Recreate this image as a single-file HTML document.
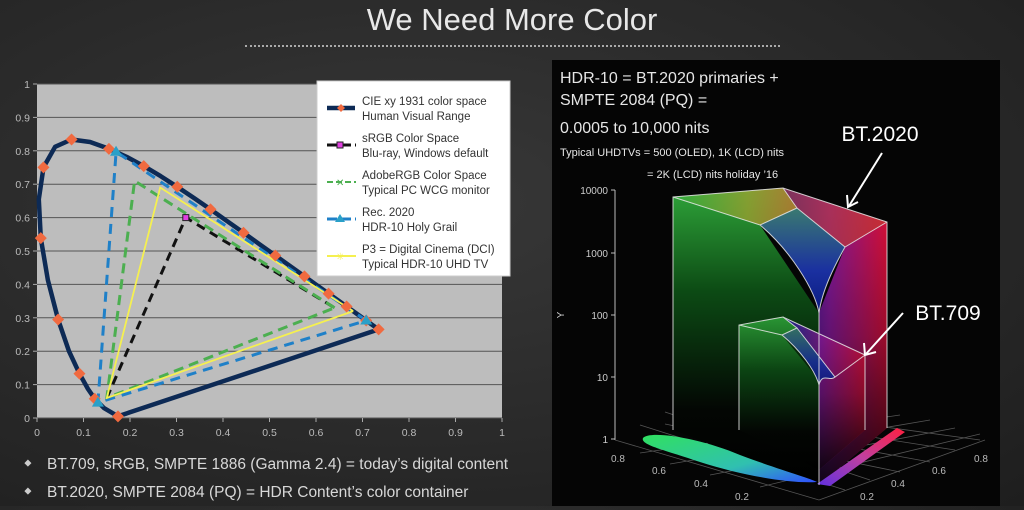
<!DOCTYPE html>
<html><head><meta charset="utf-8">
<style>
html,body{margin:0;padding:0;}
body{width:1024px;height:506px;overflow:hidden;background:radial-gradient(ellipse at 40% 40%,#383838 0%,#262626 70%,#1e1e1e 100%);font-family:"Liberation Sans",sans-serif;position:relative;}
.title{position:absolute;left:0;width:1024px;top:2px;text-align:center;color:#e8e8e8;font-size:31px;font-weight:300;}
.dots{position:absolute;left:245px;width:535px;top:45px;border-top:2px dotted #aaa;}
.bul{position:absolute;left:24px;color:#d8d8d8;font-size:15.5px;}
.bul span{display:inline-block;width:5px;height:5px;background:#ccc;margin-right:18px;vertical-align:middle;transform:rotate(45deg) translateY(-2px);}
</style></head><body>
<div class="title">We Need More Color</div>
<div class="dots"></div>
<svg id="L" width="540" height="450" style="position:absolute;left:0;top:60px" xmlns="http://www.w3.org/2000/svg"></svg>
<div class="bul" style="top:456px"><span></span>BT.709, sRGB, SMPTE 1886 (Gamma 2.4) = today’s digital content</div>
<div class="bul" style="top:484px"><span></span>BT.2020, SMPTE 2084 (PQ) = HDR Content’s color container</div>

<svg width="1024" height="506" style="position:absolute;left:0;top:0" xmlns="http://www.w3.org/2000/svg" font-family="Liberation Sans, sans-serif">
<defs>
<linearGradient id="gl" x1="0" y1="0" x2="0" y2="1"><stop offset="0" stop-color="#2fa53a"/><stop offset="0.35" stop-color="#0c4a14"/><stop offset="0.75" stop-color="#030603"/><stop offset="1" stop-color="#000"/></linearGradient>
<linearGradient id="gr" x1="0" y1="0" x2="1" y2="0"><stop offset="0" stop-color="#1020a0"/><stop offset="0.45" stop-color="#8a1aa0"/><stop offset="1" stop-color="#e0103a"/></linearGradient>
<linearGradient id="gb" x1="0" y1="0" x2="0" y2="1"><stop offset="0" stop-color="#3a7a70"/><stop offset="0.6" stop-color="#1a30a0"/><stop offset="1" stop-color="#0a1a80"/></linearGradient>
<linearGradient id="gfade" x1="0" y1="0" x2="0" y2="1"><stop offset="0" stop-color="#000" stop-opacity="0"/><stop offset="0.5" stop-color="#000" stop-opacity="0.3"/><stop offset="1" stop-color="#000" stop-opacity="0.85"/></linearGradient>
<linearGradient id="gtop" x1="0" y1="0" x2="1" y2="0"><stop offset="0" stop-color="#30b040"/><stop offset="0.6" stop-color="#a0a030"/><stop offset="1" stop-color="#d07030"/></linearGradient>
<linearGradient id="ggreen" x1="0" y1="0" x2="1" y2="1"><stop offset="0" stop-color="#30e060"/><stop offset="0.6" stop-color="#30c0b0"/><stop offset="1" stop-color="#3050ff"/></linearGradient>
<linearGradient id="gred" x1="0" y1="1" x2="1" y2="0"><stop offset="0" stop-color="#6030e0"/><stop offset="0.5" stop-color="#c040a0"/><stop offset="1" stop-color="#ff2040"/></linearGradient>
</defs>
<rect x="552" y="60" width="448" height="446" fill="#050505"/>
<g fill="#e6e6e6">
<text x="560" y="83" font-size="16">HDR-10 = BT.2020 primaries +</text>
<text x="560" y="105" font-size="16">SMPTE 2084 (PQ)  =</text>
<text x="560" y="133" font-size="16">0.0005 to 10,000 nits</text>
<text x="560" y="156" font-size="11">Typical UHDTVs = 500 (OLED), 1K (LCD) nits</text>
<text x="647" y="178" font-size="11">= 2K (LCD) nits holiday ’16</text>
</g>
<g stroke="#bbb" stroke-width="1" fill="none">
<line x1="615" y1="190" x2="615" y2="440"/>
<line x1="611" y1="190" x2="615" y2="190"/><line x1="611" y1="253" x2="615" y2="253"/><line x1="611" y1="315" x2="615" y2="315"/><line x1="611" y1="377" x2="615" y2="377"/><line x1="611" y1="439" x2="615" y2="439"/>
</g>
<g fill="#ccc" font-size="10" text-anchor="end">
<text x="608" y="194">10000</text><text x="608" y="257">1000</text><text x="608" y="319">100</text><text x="608" y="381">10</text><text x="608" y="443">1</text>
<text x="560" y="319" text-anchor="middle" transform="rotate(-90 560 315)">Y</text>
</g>
<g stroke="#555" stroke-width="0.8" fill="none">
<line x1="615" y1="440" x2="819" y2="500"/><line x1="819" y1="500" x2="985" y2="440"/>
<line x1="640" y1="425" x2="845" y2="490"/><line x1="665" y1="412" x2="870" y2="480"/>
<line x1="980" y1="440" x2="760" y2="410"/><line x1="955" y1="450" x2="730" y2="415"/>
<line x1="930" y1="462" x2="700" y2="420"/><line x1="900" y1="472" x2="665" y2="424"/>
<line x1="640" y1="453" x2="900" y2="415"/><line x1="670" y1="464" x2="930" y2="420"/><line x1="710" y1="475" x2="955" y2="428"/><line x1="760" y1="487" x2="980" y2="434"/>
</g>
<!-- BT2020 solid -->
<polygon points="673,197 783,188 797,208 760,225 819,313 819,485 673,430" fill="url(#gl)"/>
<polygon points="783,188 887,222 887,428 819,485 819,313 845,247 797,208" fill="url(#gr)"/>
<polygon points="783,188 887,222 887,428 819,485 819,313 845,247 797,208" fill="url(#gfade)"/>
<path d="M760,225 L797,208 L845,247 C835,265 822,290 819,313 C815,290 790,250 760,225Z" fill="url(#gb)"/>
<polygon points="673,197 783,188 797,208 760,225" fill="url(#gtop)" opacity="0.75"/>
<polygon points="783,188 887,222 845,247 797,208" fill="#c04030" opacity="0.6"/>
<path d="M643,438 C650,430 700,438 740,455 C780,470 810,478 817,482 C790,484 740,475 700,462 C665,450 640,445 643,438Z" fill="url(#ggreen)"/>
<path d="M817,484 L897,428 L905,432 L830,486Z" fill="url(#gred)"/>
<!-- BT709 -->
<polygon points="739,325 783,317 797,328 782,335 819,380 819,470 739,430" fill="url(#gl)" opacity="0.85"/>
<polygon points="783,317 865,355 865,430 819,470 819,380 835,377 797,328" fill="url(#gr)" opacity="0.8"/>
<polygon points="783,317 865,355 865,430 819,470 819,380 835,377 797,328" fill="url(#gfade)"/>
<path d="M782,335 L797,328 L835,377 C828,380 822,375 819,385 C815,370 800,350 782,335Z" fill="url(#gb)" opacity="0.85"/>
<g stroke="#e8e8e8" stroke-width="1" fill="none" opacity="0.85">
<polyline points="673,430 673,197 783,188 887,222 887,428"/>
<polyline points="673,197 760,225 797,208 783,188"/>
<polyline points="797,208 845,247 887,222"/>
<path d="M760,225 C790,250 815,290 819,313 C822,290 835,265 845,247"/>
<line x1="819" y1="313" x2="819" y2="485"/>
<polyline points="739,430 739,325 783,317 865,355 865,430"/>
<polyline points="739,325 782,335 797,328 783,317"/>
<polyline points="797,328 835,377 865,355"/>
<path d="M782,335 C800,350 815,370 819,385 C822,372 830,382 835,377"/>
</g>
<g stroke="#fff" stroke-width="2" fill="none">
<line x1="882" y1="153" x2="849" y2="206"/><polyline points="847,195 848,207 858,202"/>
<line x1="903" y1="313" x2="866" y2="354"/><polyline points="864,343 865,355 876,352"/>
</g>
<text x="880" y="141" font-size="21" fill="#fff" text-anchor="middle">BT.2020</text>
<text x="948" y="320" font-size="21" fill="#fff" text-anchor="middle">BT.709</text>
<g fill="#bbb" font-size="10">
<text x="611" y="462">0.8</text><text x="652" y="474">0.6</text><text x="694" y="487">0.4</text><text x="735" y="500">0.2</text>
<text x="974" y="462">0.8</text><text x="932" y="474">0.6</text><text x="891" y="487">0.4</text><text x="860" y="500">0.2</text>
</g>
</svg>

<script>
(function(){
var s=document.getElementById('L'),h='';
var X=function(x){return 37+465*x},Y=function(y){return 358-334*y};
h+='<rect x="37" y="24" width="465" height="334" fill="#bdbdbd"/>';
for(var i=0;i<=10;i++){var y=Y(i/10);h+='<line x1="37" x2="502" y1="'+y+'" y2="'+y+'" stroke="#555" stroke-width="1"/>';
h+='<line x1="33" x2="37" y1="'+y+'" y2="'+y+'" stroke="#aaa"/>';
h+='<text x="30" y="'+(y+4)+'" fill="#bbb" font-size="10.5" text-anchor="end" font-family="Liberation Sans">'+(i==0?'0':i==10?'1':(i/10))+'</text>';
var x=X(i/10);h+='<line x1="'+x+'" x2="'+x+'" y1="358" y2="362" stroke="#aaa"/>';
h+='<text x="'+x+'" y="376" fill="#bbb" font-size="10.5" text-anchor="middle" font-family="Liberation Sans">'+(i==0?'0':i==10?'1':(i/10))+'</text>';}
var loc=[[.1741,.005],[.144,.0297],[.1241,.0578],[.1096,.0868],[.0913,.1327],[.0687,.2007],[.0454,.295],[.0235,.4127],[.0082,.5384],[.0039,.6548],[.0139,.7502],[.0389,.812],[.0743,.8338],[.1142,.8262],[.1547,.8059],[.1929,.7816],[.2296,.7543],[.2658,.7243],[.3016,.6923],[.3373,.6589],[.3731,.6245],[.4087,.5896],[.4441,.5547],[.4788,.5202],[.5125,.4866],[.5448,.4544],[.5752,.4242],[.6029,.3965],[.627,.3725],[.6482,.3514],[.6658,.334],[.6915,.3083],[.7079,.292],[.719,.2809],[.7347,.2653]];
function P(a){return a.map(function(p){return X(p[0]).toFixed(1)+','+Y(p[1]).toFixed(1)}).join(' ')}
h+='<polygon points="'+P(loc)+'" fill="none" stroke="#0d2a55" stroke-width="4.5" stroke-linejoin="round"/>';
var sr=[[.15,.06],[.32,.6],[.64,.33]],ad=[[.64,.33],[.21,.71],[.15,.06],[.64,.33]],rc=[[.708,.292],[.17,.797],[.131,.046],[.708,.292]],p3=[[.68,.32],[.265,.69],[.15,.06],[.68,.32]];
h+='<polyline points="'+P(sr)+'" fill="none" stroke="#111" stroke-width="3" stroke-dasharray="9,6"/>';
h+='<polyline points="'+P(ad)+'" fill="none" stroke="#4caf50" stroke-width="3" stroke-dasharray="10,6"/>';
h+='<polyline points="'+P(rc)+'" fill="none" stroke="#1f80c8" stroke-width="3" stroke-dasharray="10,7"/>';
h+='<polyline points="'+P(p3)+'" fill="none" stroke="#f5f050" stroke-width="1.8"/>';
loc.forEach(function(p,k){if(k%2==0||k==loc.length-1){var x=X(p[0]),y=Y(p[1]);h+='<polygon points="'+x+','+(y-6)+' '+(x+6)+','+y+' '+x+','+(y+6)+' '+(x-6)+','+y+'" fill="#f06a40"/>';}});
h+='<rect x="'+(X(.32)-3)+'" y="'+(Y(.6)-3)+'" width="6" height="6" fill="#e040e0" stroke="#222"/>';
rc.slice(0,3).forEach(function(p){var x=X(p[0]),y=Y(p[1]);h+='<polygon points="'+x+','+(y-6)+' '+(x+6)+','+(y+4)+' '+(x-6)+','+(y+4)+'" fill="#2aa0c8"/>';});
h+='<rect x="317" y="21" width="193" height="195" fill="#fff" stroke="#ccc"/>';
var L=[['CIE xy 1931 color space','Human Visual Range'],['sRGB Color Space','Blu-ray, Windows default'],['AdobeRGB Color Space','Typical PC WCG monitor'],['Rec. 2020','HDR-10 Holy Grail'],['P3 = Digital Cinema (DCI)','Typical HDR-10 UHD TV']];
L.forEach(function(t,k){var y=45+k*37;
h+='<text x="362" y="'+y+'" font-size="11.5" fill="#333" font-family="Liberation Sans">'+t[0]+'</text><text x="362" y="'+(y+15)+'" font-size="11.5" fill="#333" font-family="Liberation Sans">'+t[1]+'</text>';
var ly=y+3;
if(k==0){h+='<line x1="327" x2="355" y1="'+ly+'" y2="'+ly+'" stroke="#0d2a55" stroke-width="4.5"/><polygon points="341,'+(ly-4)+' 345,'+ly+' 341,'+(ly+4)+' 337,'+ly+'" fill="#f06a40"/>';}
if(k==1){h+='<line x1="327" x2="356" y1="'+ly+'" y2="'+ly+'" stroke="#111" stroke-width="3" stroke-dasharray="10,4"/><rect x="337" y="'+(ly-3)+'" width="6" height="6" fill="#e040e0" stroke="#222"/>';}
if(k==2){h+='<line x1="327" x2="356" y1="'+ly+'" y2="'+ly+'" stroke="#4caf50" stroke-width="2" stroke-dasharray="6,3"/><text x="336" y="'+(ly+4)+'" font-size="10" fill="#4caf50">✕</text>';}
if(k==3){h+='<line x1="327" x2="356" y1="'+ly+'" y2="'+ly+'" stroke="#1f80c8" stroke-width="3" stroke-dasharray="10,4"/><polygon points="340,'+(ly-5)+' 345,'+(ly+3)+' 335,'+(ly+3)+'" fill="#2aa0c8"/>';}
if(k==4){h+='<line x1="327" x2="356" y1="'+ly+'" y2="'+ly+'" stroke="#f5f050" stroke-width="2"/><text x="336" y="'+(ly+4)+'" font-size="10" fill="#f5f050">✳</text>';}
});
s.innerHTML=h;
})();
</script>
</body></html>
